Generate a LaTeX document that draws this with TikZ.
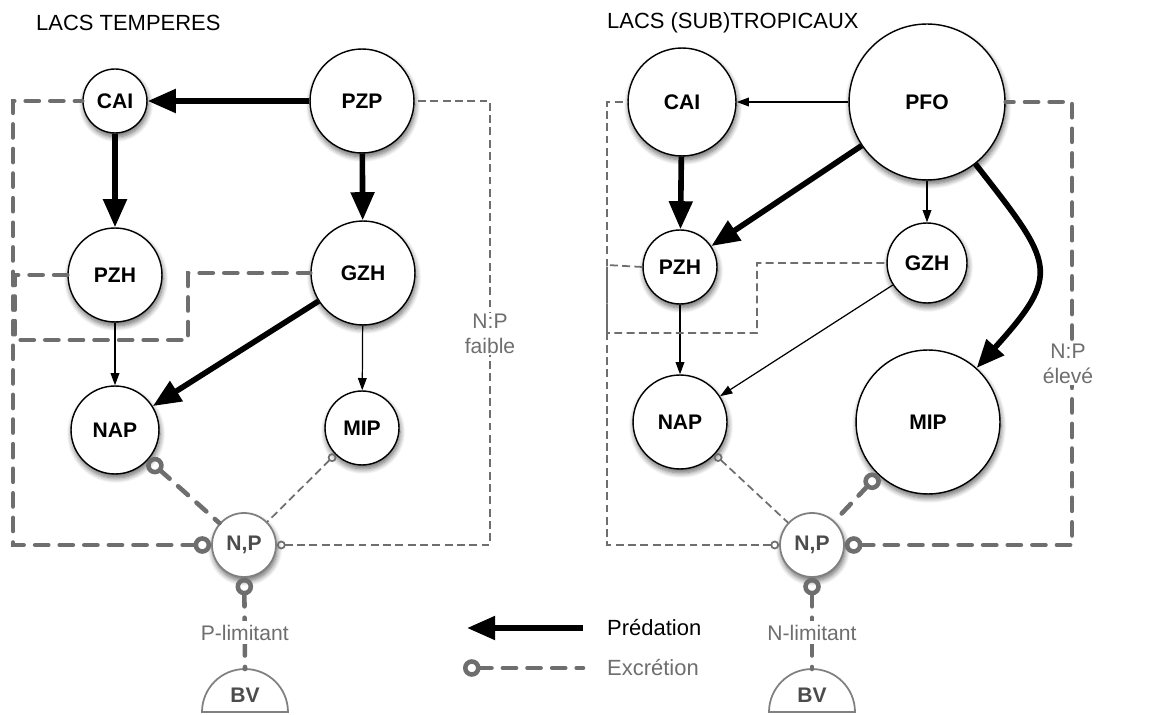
\documentclass[tikz,border=0pt]{standalone}
\usepackage{fontspec}
\setmainfont{Liberation Sans}
\usetikzlibrary{arrows.meta,shadows.blur}
\definecolor{exgray}{HTML}{6E6E6E}
\definecolor{npgray}{HTML}{808080}
\tikzset{
  pop/.style={circle, draw=black, line width=0.8pt, fill=white, inner sep=0pt,
    minimum size=#1*0.04cm, font=\fontsize{12}{14}\selectfont\bfseries,
    blur shadow={shadow blur steps=8, shadow xshift=0.6pt, shadow yshift=-2.2pt,
      shadow blur radius=3pt, shadow opacity=60}},
  nut/.style={pop=32, draw=npgray, line width=1pt, text=black!70},
  pred/.style={line width=3.2pt, -{Triangle[length=16pt,width=13pt]}},
  predthin/.style={line width=0.7pt, -{Triangle[length=7pt,width=5pt]}},
  exc/.style={draw=exgray, line width=2.6pt, line cap=round, dash pattern=on 7.5pt off 6.5pt},
  excthin/.style={draw=exgray, line width=1pt, dash pattern=on 4.5pt off 2.5pt},
  exring/.tip={Circle[open,length=10pt,width=10pt]},
  exringsmall/.tip={Circle[open,length=5pt,width=5pt]},
  note/.style={font=\fontsize{12}{14}\selectfont, text=exgray},
  title/.style={anchor=west, font=\fontsize{12.5}{15}\selectfont},
}
\begin{document}
\begin{tikzpicture}[x=0.02cm, y=-0.02cm]
\useasboundingbox (0,0) rectangle (1162,715);
% Titles
\node[title] (titleL) at (30,23) {LACS TEMPERES};
\node[title] (titleR) at (601,23) {LACS (SUB)TROPICAUX};

% Left: temperate lakes
\node[pop=32] (caiL) at (115,101) {CAI};
\node[pop=52] (pzpL) at (362,101) {PZP};
\node[pop=47] (pzhL) at (115,275) {PZH};
\node[pop=52] (gzhL) at (363,273) {GZH};
\node[pop=44] (napL) at (115,430) {NAP};
\node[pop=37] (mipL) at (362,428) {MIP};
\node[nut] (npL) at (244,545) {N,P};
\draw[draw=npgray, line width=1pt, fill=white] (202,712) arc[start angle=180, end angle=0, radius=0.86cm] -- cycle;
\node[font=\fontsize{12}{14}\selectfont\bfseries, text=black!70] (bvL) at (245,695) {BV};
\coordinate (bvLtop) at (245,669);
% predation
\draw[pred] (pzpL) -- (caiL);
\draw[pred] (caiL) -- (pzhL);
\draw[pred] (pzpL) -- (gzhL);
\draw[pred] (gzhL) -- (napL);
\draw[predthin] (pzhL) -- (napL);
\draw[predthin] (gzhL) -- (mipL);
% excretion
\draw[exc, exring-] (npL.west) -| (13,101) -- (caiL.west);
\draw[exc] (pzhL.west) -- (15,275) |- (188,340) |- (gzhL.west);
\draw[excthin, exringsmall-] (npL.east) -- (490,545) |- (pzpL.east);
\node[note, fill=white, align=center, inner sep=1pt] (ratioL) at (490,334) {N:P\\faible};
\draw[exc, exring-] (napL) -- (npL);
\draw[excthin, exringsmall-] (mipL) -- (npL);
\draw[exc, exring-] (npL) -- (bvLtop) node[note, pos=0.6, fill=white, inner sep=2pt] (limL) {P-limitant};

% Right: (sub)tropical lakes
\node[pop=54] (caiR) at (682,102) {CAI};
\node[pop=78] (pfoR) at (927,102) {PFO};
\node[pop=37] (pzhR) at (680,267) {PZH};
\node[pop=40] (gzhR) at (927,263) {GZH};
\node[pop=47] (napR) at (680,422) {NAP};
\node[pop=72] (mipR) at (928,422) {MIP};
\node[nut] (npR) at (812,545) {N,P};
\draw[draw=npgray, line width=1pt, fill=white] (769,712) arc[start angle=180, end angle=0, radius=0.86cm] -- cycle;
\node[font=\fontsize{12}{14}\selectfont\bfseries, text=black!70] (bvR) at (812,695) {BV};
\coordinate (bvRtop) at (812,669);
% predation
\draw[predthin] (pfoR) -- (caiR);
\draw[pred] (caiR) -- (pzhR);
\draw[pred] (pfoR) -- (pzhR);
\draw[predthin] (pfoR) -- (gzhR);
\draw[pred] (pfoR) to[out=-52, in=48, looseness=1.6] (mipR);
\draw[predthin] (pzhR) -- (napR);
\draw[predthin] (gzhR) -- (napR);
% excretion
\draw[excthin, exringsmall-] (npR.west) -| (607,102) -- (caiR.west);
\draw[excthin] (pzhR.west) -- (607,265) |- (757,333) |- (gzhR.west);
\draw[exc, exring-] (npR.east) -- (1072,545) |- (pfoR.east);
\node[note, fill=white, align=center, inner sep=1pt] (ratioR) at (1068,364) {N:P\\élevé};
\draw[excthin, exringsmall-] (napR) -- (npR);
\draw[exc, exring-] (mipR) -- (npR);
\draw[exc, exring-] (npR) -- (bvRtop) node[note, pos=0.6, fill=white, inner sep=2pt] (limR) {N-limitant};

% Legend
\coordinate (predA) at (583,628);
\coordinate (predB) at (467,628);
\draw[pred] (predA) -- (predB);
\node[anchor=west, font=\fontsize{12.5}{15}\selectfont] (predtxt) at (601,628) {Prédation};
\coordinate (excA) at (463,668);
\coordinate (excB) at (583,668);
\draw[exc, exring-] (excA) -- (excB);
\node[anchor=west, note, font=\fontsize{12.5}{15}\selectfont] (exctxt) at (601,668) {Excrétion};
\end{tikzpicture}
\end{document}
